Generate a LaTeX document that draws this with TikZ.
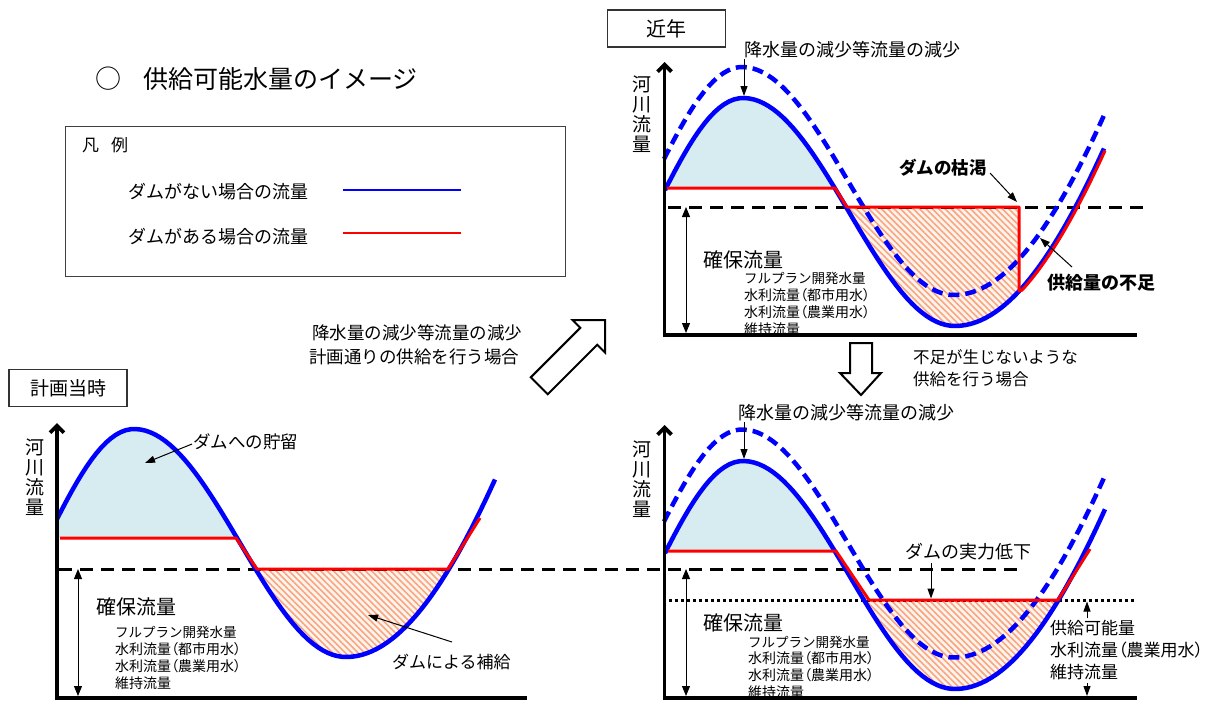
\documentclass[tikz,border=0pt]{standalone}
\usepackage{fontspec}
\setmainfont{Noto Sans CJK JP}
\newfontfamily\jpp{Noto Sans CJK JP}[RawFeature=+palt]
\usetikzlibrary{arrows.meta,patterns.meta}
\newcommand\myfs[1]{\fontsize{#1pt}{#1pt}\selectfont}
\definecolor{fblue}{RGB}{0,0,255}
\definecolor{fred}{RGB}{255,0,0}
\definecolor{lblue}{RGB}{214,236,240}
\definecolor{horange}{RGB}{248,165,130}
\definecolor{lpeach}{RGB}{255,244,236}
\begin{document}
\begin{tikzpicture}[x=1pt,y=-1pt,
  declare function={cv(\s)=(\s<0)?(114*(1-cos(\s/178*180))):((\s<212)?(114*(1-cos(\s/212*180))):(228-436*(1-cos((\s-212)/500*180))));},
  fl/.style n args={4}{insert path={plot[domain=#3:#4,samples=90,variable=\t] ({#1+\t},{#2+cv(\t)})}},
  flto/.style n args={4}{insert path={-- plot[domain=#3:#4,samples=90,variable=\t] ({#1+\t},{#2+cv(\t)})}},
  blueline/.style={draw=fblue,line width=4.5pt},
  bluedash/.style={draw=fblue,line width=4.5pt,dash pattern=on 11pt off 6pt},
  redline/.style={draw=fred,line width=3pt,line join=round},
  blkdash/.style={draw=black,line width=3pt,dash pattern=on 13pt off 8pt},
  blkdot/.style={draw=black,line width=3pt,dash pattern=on 2.5pt off 3.5pt},
  axisline/.style={draw=black,line width=3.8pt},
  yaxis/.style={axisline,-{Straight Barb[length=7pt,width=14pt]}},
  dimline/.style={draw=black,line width=1pt,{Triangle[length=10pt,width=8pt]}-{Triangle[length=10pt,width=8pt]}},
  note/.style={draw=black,line width=1pt,-{Triangle[length=10pt,width=7pt]}},
  fillb/.style={fill=lblue},
  hatch/.style={preaction={fill=lpeach},pattern={Lines[angle=-45,distance=4.5pt,line width=1.6pt]},pattern color=horange},
  txt/.style={inner sep=0pt,anchor=west},
  titlebox/.style={draw=black!80,line width=1.3pt,minimum width=118pt,minimum height=37pt,inner sep=0pt},
  hollow/.style={draw=black,line width=2pt,fill=white,line join=miter},
  ylab/.style={inner sep=0pt,align=center,font=\fontsize{19pt}{20pt}\selectfont},
]
\useasboundingbox (0,0) rectangle (1214,702);
\fill[white] (0,0) rectangle (1214,702);

% ---------- header and legend ----------
\node[inner sep=0pt,font=\myfs{26}] (maru) at (108,79) {○};
\node[txt,font=\myfs{25}] (title) at (143,79) {供給可能水量のイメージ};
\node[draw=black!75,line width=1.3pt,minimum width=500pt,minimum height=150pt,anchor=north west,inner sep=0pt] (legend) at (65,126) {};
\node[txt,font=\myfs{17}] (hanrei) at (82,145) {凡\hspace{12pt}例};
\node[txt,font=\myfs{18}] (leg1) at (128,192) {ダムがない場合の流量};
\node[txt,font=\myfs{18}] (leg2) at (128,237) {ダムがある場合の流量};
\draw[draw=fblue,line width=1.6pt] (343,190) -- (461,190);
\draw[draw=fred,line width=1.6pt] (343,233) -- (461,233);

% ---------- middle texts and hollow arrows ----------
\node[txt,font=\myfs{17.5}] (mid1) at (312,333) {降水量の減少等流量の減少};
\node[txt,font=\myfs{17.5}] (mid2) at (309,357) {計画通りの供給を行う場合};
\draw[hollow] (605,320) -- (605,352.5) -- (597.2,344.7) -- (547.7,394.2) -- (530.8,377.3) -- (580.3,327.8) -- (572.5,320) -- cycle;
\draw[hollow] (850,343) -- (872,343) -- (872,373) -- (881,373) -- (861,395) -- (840,373) -- (850,373) -- cycle;
\node[txt,font=\myfs{16.5}] (mid3) at (913,357) {不足が生じないような};
\node[txt,font=\myfs{16.5}] (mid4) at (913,379) {供給を行う場合};

% ---------- fills ----------
\fill[fillb] (57,538) [flto={134}{429}{-77}{103}] -- cycle;
\fill[hatch] [fl={134}{429}{121.5}{314.9}] -- cycle;
\fill[fillb] (665,188) [flto={743}{98}{-78}{91.6}] -- cycle;
\fill[hatch] [fl={743}{98}{103}{276}] -- (1019,207) -- cycle;
\fill[fillb] (665,551) [flto={743}{461}{-78}{91.6}] -- cycle;
\fill[hatch] [fl={743}{461}{121}{315.4}] -- cycle;

% ---------- panel titles ----------
\node[titlebox,font=\myfs{19}] (tplan) at (68,388) {計画当時};
\node[titlebox,font=\myfs{20}] (trecent) at (666.5,28.5) {近年};

% ---------- y labels ----------
\node[ylab] (ylabA) at (35,477) {河\\川\\流\\量};
\node[ylab] (ylabB) at (642,114) {河\\川\\流\\量};
\node[ylab] (ylabC) at (642,479) {河\\川\\流\\量};

% ---------- secured flow texts ----------
\node[txt,font=\myfs{20}] (kakuA) at (96,607) {確保流量};
\node[txt,font=\myfs{13.5}] (lA1) at (115,632) {フルプラン開発水量};
\node[txt,font=\jpp\myfs{14}] (lA2) at (115,649) {水利流量（都市用水）};
\node[txt,font=\jpp\myfs{14}] (lA3) at (115,666) {水利流量（農業用水）};
\node[txt,font=\myfs{14}] (lA4) at (115,683) {維持流量};

\node[txt,font=\myfs{20}] (kakuB) at (703,260) {確保流量};
\node[txt,font=\myfs{13.5}] (lB1) at (744,278) {フルプラン開発水量};
\node[txt,font=\jpp\myfs{14}] (lB2) at (744,295) {水利流量（都市用水）};
\node[txt,font=\jpp\myfs{14}] (lB3) at (744,312) {水利流量（農業用水）};
\node[txt,font=\myfs{14}] (lB4) at (744,329) {維持流量};

\node[txt,font=\myfs{20}] (kakuC) at (703,623) {確保流量};
\node[txt,font=\myfs{13.5}] (lC1) at (748,642) {フルプラン開発水量};
\node[txt,font=\jpp\myfs{14}] (lC2) at (748,658) {水利流量（都市用水）};
\node[txt,font=\jpp\myfs{14}] (lC3) at (748,675) {水利流量（農業用水）};
\node[txt,font=\myfs{14}] (lC4) at (748,692) {維持流量};

% ---------- annotation texts ----------
\node[txt,font=\myfs{17.5}] (store) at (193,442) {ダムへの貯留};
\node[txt,font=\myfs{17}] (supply) at (392,662) {ダムによる補給};
\node[txt,font=\myfs{18}] (rainB) at (744,50) {降水量の減少等流量の減少};
\node[txt,font=\myfs{17.5}\bfseries] (dry) at (899,168) {ダムの枯渇};
\node[txt,font=\myfs{18}\bfseries] (short) at (1047,283) {供給量の不足};
\node[txt,font=\myfs{18}] (rainC) at (738,413) {降水量の減少等流量の減少};
\node[txt,font=\myfs{18}] (drop) at (905,552) {ダムの実力低下};
\node[txt,font=\myfs{17}] (avail1) at (1050,628) {供給可能量};
\node[txt,font=\jpp\myfs{17}] (avail2) at (1050,650) {水利流量（農業用水）};
\node[txt,font=\myfs{17}] (avail3) at (1050,672) {維持流量};

% ---------- reference lines ----------
\draw[blkdash] (59,569) -- (1021,569);
\draw[blkdash] (668,207) -- (1143,207);
\draw[blkdot] (669,600) -- (1135,600);

% ---------- flow curves ----------
\draw[blueline] [fl={134}{429}{-77}{361}];
\draw[bluedash] [fl={742}{67}{-78}{362}];
\draw[blueline] [fl={743}{98}{-78}{361}];
\draw[bluedash] [fl={742}{429.5}{-78}{362}];
\draw[blueline] [fl={743}{461}{-78}{362}];

% ---------- dam flows (red) ----------
\draw[redline] (60,538) -- (236,538) -- (257,569) -- (448,569) -- (480,518);
\draw[redline] (667,188) -- (835,188) -- (847,207) -- (1019,207) -- (1019,291) [flto={745}{98}{277}{360}];
\draw[redline] (668,551) -- (836,551) -- (869,600) -- (1058,600) -- (1090,549);

% ---------- axes ----------
\draw[yaxis] (57,700) -- (57,423);
\draw[axisline] (55,698) -- (527,698);
\draw[yaxis] (664.5,337) -- (664.5,62);
\draw[axisline] (662.5,335) -- (1137,335);
\draw[yaxis] (664.5,700) -- (664.5,425);
\draw[axisline] (662.5,698) -- (1137,698);

% ---------- dimension arrows ----------
\coordinate (dA1) at (78,569); \coordinate (dA2) at (78,696);
\coordinate (dB1) at (686,207); \coordinate (dB2) at (686,333);
\coordinate (dC1) at (686,569); \coordinate (dC2) at (686,696);
\draw[dimline] (dA1) -- (dA2);
\draw[dimline] (dB1) -- (dB2);
\draw[dimline] (dC1) -- (dC2);
\coordinate (up1) at (1087,618); \coordinate (up2) at (1087,601.5);
\coordinate (dn1) at (1087,683); \coordinate (dn2) at (1087,696);
\draw[note] (up1) -- (up2);
\draw[note] (dn1) -- (dn2);

% ---------- annotation arrows ----------
\coordinate (storeT) at (145,463);
\coordinate (supplyT) at (368,615);
\coordinate (peakB) at (744,96);
\coordinate (peakC) at (744,459);
\coordinate (dryT) at (1017,202);
\coordinate (shortT) at (1040,238);
\coordinate (dropT) at (931,598.5);
\draw[note] (192,444) -- (storeT);
\draw[note] (452,642) -- (supplyT);
\draw[note] (744,59) -- (peakB);
\draw[note] (744,422) -- (peakC);
\draw[note] (990,173) -- (dryT);
\draw[note] (1072,267) -- (shortT);
\draw[note] (931,563) -- (dropT);
\end{tikzpicture}
\end{document}
